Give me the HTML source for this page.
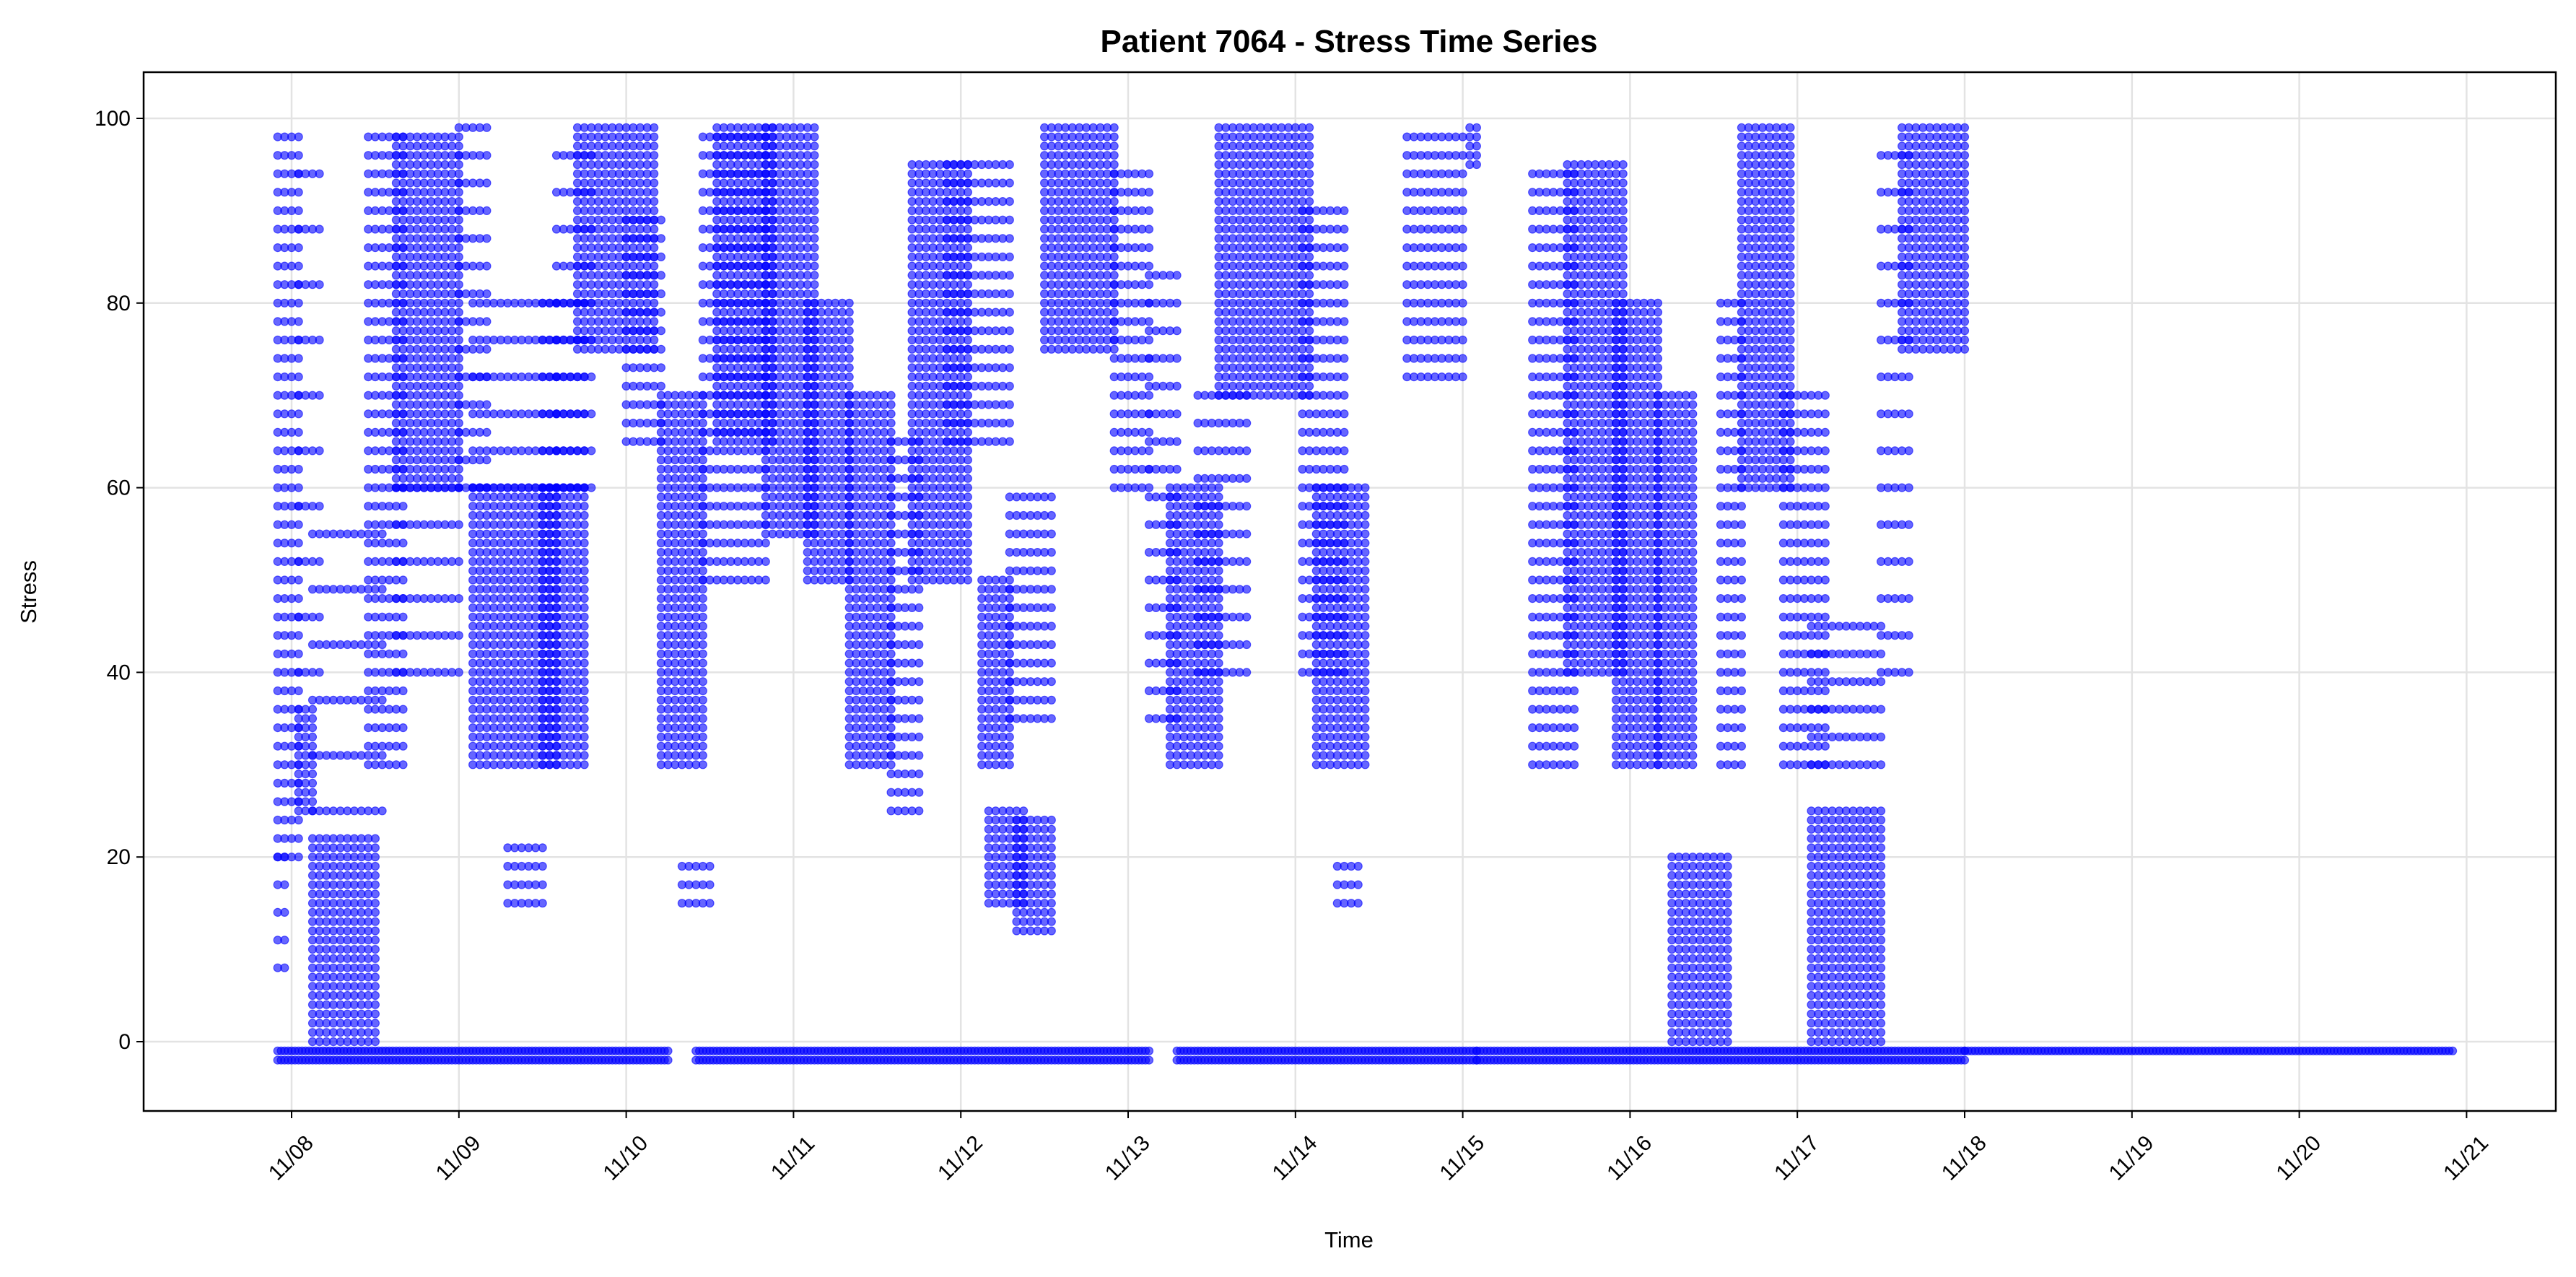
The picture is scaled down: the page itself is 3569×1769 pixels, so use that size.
<!DOCTYPE html>
<html><head><meta charset="utf-8"><style>
html,body{margin:0;padding:0;background:#fff;}
svg{display:block;font-family:"Liberation Sans","DejaVu Sans",sans-serif;}
</style></head><body>
<svg id="chart" width="3569" height="1769" viewBox="0 0 3569 1769" xmlns="http://www.w3.org/2000/svg">
<rect x="0" y="0" width="3569" height="1769" fill="#fff"/>
<text x="1869" y="72" text-anchor="middle" font-size="44" font-weight="bold">Patient 7064 - Stress Time Series</text>
<g id="grid"></g>
<g id="marks"></g>
<g id="axes"></g>
<text x="1869" y="1728" text-anchor="middle" font-size="31">Time</text>
<text transform="translate(50,820) rotate(-90)" text-anchor="middle" font-size="31">Stress</text>
</svg>
<script>
// hours since 11/08 00:00; dense reading bands: [startHour, endHour, lowStress, highStress, stepStress]
const dayLabels = ["11/08","11/09","11/10","11/11","11/12","11/13","11/14","11/15","11/16","11/17","11/18","11/19","11/20","11/21"];
const yTicks = [0,20,40,60,80,100];
const bandStart = [-2,-2,1,1,3,3,11,15,15,24,26,31,26,36,36,38,41,48,53,56,59,61,68,74,80,86,89,94,99,100,103,104,108,118,123,126,130,133,145,147,150,160,169,178,183,190,196,198,205,208,214,218,218,228,231];
const bandEnd   = [1,-1,3,4,12,13,16,24,24,28,38,36,38,42,42,43,52,53,59,60,68,69,75,80,86,90,97,103,103,105,109,109,118,123,127,133,137,146,151,154,153,168,170,184,191,196,201,206,208,215,220,228,228,232,240];
const bandLow   = [20,8,25,40,0,25,30,60,40,60,30,15,60,30,60,60,75,65,30,15,50,65,55,50,30,25,50,65,30,15,35,12,75,60,35,30,40,70,40,30,15,72,95,30,40,30,30,0,30,60,30,0,30,40,75];
const bandHigh  = [99,20,36,99,22,60,98,98,60,99,60,21,82,60,80,99,99,90,70,19,99,99,99,80,70,65,95,96,50,25,60,24,99,95,85,60,70,99,90,60,20,99,99,95,95,80,70,20,80,99,70,25,45,99,99];
const bandStep  = [2,3,1,6,1,6,2,1,4,3,1,2,4,1,4,4,1,2,1,2,2,1,1,1,1,2,1,2,1,1,2,1,1,2,3,1,3,1,2,1,2,2,1,2,1,1,1,1,2,1,2,1,3,4,1];
// missing-value baseline (-1 / -2) segments
const baseStart = [-2,58,127,170,240];
const baseEnd   = [54,123,170,240,310];
const baseVals  = [-1,-2];

const X0=404, PXH=231.8/24, Y0=1443, PXV=12.79;
const L=199,R=3541,T=100,B=1539;
function xs(h){return X0+h*PXH;}
function ys(v){return Y0-v*PXV;}
const NS="http://www.w3.org/2000/svg";
function mk(tag,attrs,parent){const e=document.createElementNS(NS,tag);for(const k in attrs)e.setAttribute(k,attrs[k]);parent.appendChild(e);return e;}
const grid=document.getElementById('grid'),marks=document.getElementById('marks'),axes=document.getElementById('axes');

dayLabels.forEach((d,i)=>{
  const x=xs(i*24);
  const g=mk('line',{x1:x,x2:x,y1:T,y2:B,stroke:'#e3e3e3','stroke-width':2.5},grid);
  
  
  const t=mk('line',{x1:x,x2:x,y1:B,y2:B+10,stroke:'#000','stroke-width':2},axes);
  
  
  const tx=mk('text',{transform:`translate(${x+6},${B+72}) rotate(-45)`,'text-anchor':'middle','font-size':30},axes);
  tx.textContent=d;
  
  
});
yTicks.forEach(v=>{
  const y=ys(v);
  const g=mk('line',{x1:L,x2:R,y1:y,y2:y,stroke:'#e3e3e3','stroke-width':2.5},grid);
  
  
  const t=mk('line',{x1:L-10,x2:L,y1:y,y2:y,stroke:'#000','stroke-width':2},axes);
  
  
  const tx=mk('text',{x:L-18,y:y+10,'text-anchor':'end','font-size':30},axes);
  tx.textContent=v;
  
  
});
const frame=mk('rect',{x:L,y:T,width:R-L,height:B-T,fill:'none',stroke:'#000','stroke-width':2.5},axes);



function dot(h,v){
  const c=mk('circle',{cx:xs(h).toFixed(1),cy:ys(v).toFixed(1),r:5.5,fill:'#0000ff','fill-opacity':0.6,stroke:'#0000ff','stroke-opacity':0.6,'stroke-width':1.2},marks);
  
  
}
for(let i=0;i<bandStart.length;i++){
  for(let h=bandStart[i];h<=bandEnd[i];h+=1){
    for(let v=bandLow[i];v<=bandHigh[i];v+=bandStep[i]) dot(h,v);
  }
}
for(let i=0;i<baseStart.length;i++){
  for(let h=baseStart[i];h<=baseEnd[i];h+=0.5){
    baseVals.forEach(v=>{ if(!(baseStart[i]>=240 && v===-2)) dot(h,v); });
  }
}
</script>
</body></html>
